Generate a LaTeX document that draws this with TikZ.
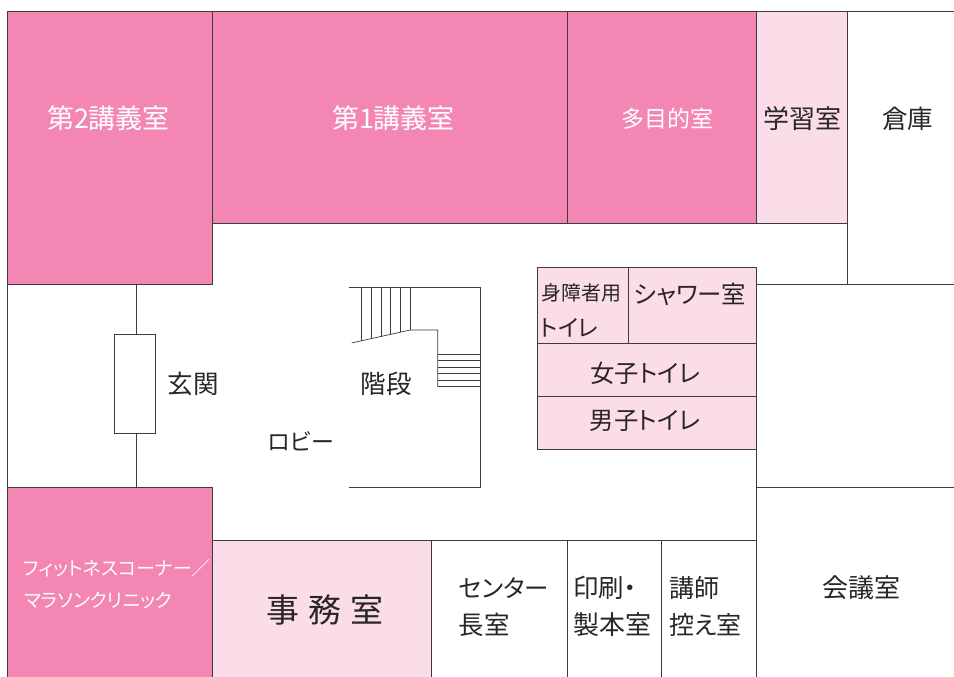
\documentclass[tikz,border=0pt]{standalone}
\usepackage{fontspec}
\newfontfamily\cjk{Noto Sans CJK JP}
\newfontfamily\cjkp[RawFeature=+palt]{Noto Sans CJK JP}
\definecolor{pinkA}{HTML}{F386B3}
\definecolor{pinkB}{HTML}{FBDDE9}
\definecolor{wall}{HTML}{3F3A3C}
\definecolor{ink}{HTML}{2A2526}
\tikzset{
  wallline/.style={draw=wall,line width=0.9pt},
  thinline/.style={draw=wall,line width=0.7pt},
  roomA/.style={fill=pinkA,wallline},
  roomB/.style={fill=pinkB,wallline},
  lbl/.style={inner sep=0pt,text=ink,font=\cjk\fontsize{25.5}{30}\selectfont},
  lblw/.style={lbl,text=white,font=\cjk\fontsize{27}{32}\selectfont},
  kana/.style={inner sep=0pt,text=ink,font=\cjkp\fontsize{24.4}{30}\selectfont},
  kanaw/.style={inner sep=0pt,text=white,font=\cjkp\fontsize{19}{22}\selectfont}
}
\begin{document}
\begin{tikzpicture}[x=1pt,y=-1pt]
\useasboundingbox (0,0) rectangle (954,677);
\fill[white] (0,0) rectangle (954,677);
\begin{scope}[shift={(-0.25,-0.1)}]
% coloured rooms
\path[roomA] (8,12) rectangle (213,285);
\path[roomA] (213,12) rectangle (568,224);
\path[roomA] (568,12) rectangle (757,224);
\path[roomB] (757,12) rectangle (848,224);
\path[roomA] (8,488) rectangle (213,678);
\path[roomB] (213,541) rectangle (432,678);
% toilets
\path[roomB] (538,268) rectangle (757,450);
\draw[wallline] (538,344) -- (757,344) (538,397) -- (757,397);
\draw[thinline] (629,268) -- (629,344);
% walls
\draw[wallline] (848,12) -- (955,12) (848,224) -- (848,285)
  (213,224) -- (848,224) (757,285) -- (955,285)
  (8,285) -- (8,488) (213,541) -- (757,541)
  (757,450) -- (757,678) (757,488) -- (955,488)
  (568,541) -- (568,678) (662,541) -- (662,678);
% entrance
\draw[thinline] (137,285) -- (137,334) (137,433) -- (137,488);
\draw[thinline,fill=white] (115,334) rectangle (156,433);
% stairs
\draw[thinline] (349,287) -- (481,287) -- (481,487) -- (349,487);
\draw[thinline] (352,343) -- (411,330) -- (438,330) -- (438,387);
\draw[thinline,line width=0.6pt] (362,287) -- (362,341) (372,287) -- (372,339) (381.5,287) -- (381.5,337)
  (391,287) -- (391,334.5) (401,287) -- (401,332.5) (411,287) -- (411,330);
\draw[thinline,line width=0.6pt] (438,354.3) -- (481,354.3) (438,360.7) -- (481,360.7) (438,367) -- (481,367)
  (438,373.3) -- (481,373.3) (438,380) -- (481,380) (438,386.3) -- (481,386.3);
\end{scope}
% labels
\node[lblw] (n2) at (108.5,118.5) {第2講義室};
\node[lblw] (n1) at (393.5,118.5) {第1講義室};
\node[lblw,font=\cjk\fontsize{23}{28}\selectfont] (tm) at (667.5,118.5) {多目的室};
\node[lbl,font=\cjk\fontsize{26}{30}\selectfont] (gs) at (802,118.5) {学習室};
\node[lbl] (sk) at (907.5,118.5) {倉庫};
\node[lbl] (gk) at (193,384) {玄関};
\node[lbl] (kd) at (386,384) {階段};
\node[kana,font=\cjkp\fontsize{23}{28}\selectfont] (rb) at (301,441) {ロビー};
\node[kana,font=\cjkp\fontsize{20}{24}\selectfont] (sh) at (581.5,293) {身障者用};
\node[kana,font=\cjkp\fontsize{23}{26}\selectfont] (st) at (569.5,328) {トイレ};
\node[kana] (sw) at (690,294) {シャワー室};
\node[kana] (jt) at (645.5,373) {女子トイレ};
\node[kana] (dt) at (645,420.5) {男子トイレ};
\node[lbl,font=\cjk\fontsize{33}{38}\selectfont] (jm) at (325,610) {事\hspace{9pt}務\hspace{9pt}室};
\node[kana,anchor=west] (c1) at (458.5,588) {センター};
\node[kana,anchor=west,font=\cjkp\fontsize{25.5}{30}\selectfont] (c2) at (458.5,625) {長室};
\node[kana,anchor=west,font=\cjkp\fontsize{25.5}{30}\selectfont] (i1) at (573,588) {印刷・};
\node[kana,anchor=west,font=\cjkp\fontsize{26}{30}\selectfont] (i2) at (573,625) {製本室};
\node[kana,anchor=west,font=\cjkp\fontsize{25}{30}\selectfont] (k1) at (669,588) {講師};
\node[kana,anchor=west,font=\cjkp\fontsize{25}{30}\selectfont] (k2) at (669,625) {控え室};
\node[lbl,font=\cjk\fontsize{26}{30}\selectfont] (kg) at (861,588) {会議室};
\node[kanaw,anchor=west] (f1) at (23,568) {フィットネスコーナー／};
\node[kanaw,anchor=west] (f2) at (24,601) {マラソンクリニック};
\end{tikzpicture}
\end{document}
